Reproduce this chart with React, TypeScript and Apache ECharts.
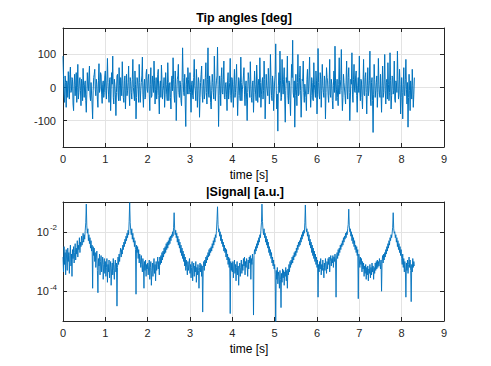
import React, { useEffect, useRef } from 'react';
import * as echarts from 'echarts';

// sampling step of the plotted records [s]
const dt = 0.0125;

// tick values
const timeTicks = [0, 1, 2, 3, 4, 5, 6, 7, 8, 9];
const angleTicks = [-100, 0, 100];
const signalTickExponents = [-4, -2];

// Tip angles [deg], one value per dt starting at t = 0 (each row = 0.5 s)
const tipAngles = [
  95, 30, -20, -45, 35, 15, -60, 20, 10, -30, 48, 5, -35, 40, 62, -15, -8, 30, 25, -50, -70, 10, 40, -25, 5, 45, -45, 0, 70, -35, -15, 20, 30, -10, -55, 25, 12, -40, 58, 5,
  -30, 10, 20, -40, -75, -20, 45, 5, -10, 35, 65, -25, -40, 15, 15, -50, -95, -10, 30, 40, 55, -5, -25, 25, 10, -35, -60, 20, 72, -15, -5, 45, 38, -20, -48, 10, 20, -30, -15, 35,
  50, -10, -35, 20, 88, 15, -20, -45, 25, 30, -70, -5, 45, 10, 95, -30, -50, 25, 10, -20, -85, -15, 35, 40, -15, -40, 60, 5, -40, 30, 5, -25, 78, 20, -30, -45, 22, 35, -65, -10,
  40, -25, -10, 15, 65, -20, -55, 30, 18, -15, -35, 25, 85, 0, -20, -40, 50, 10, -95, -30, 30, 20, -5, -45, 70, 15, -45, -10, 15, 35, 92, -20, -60, 5, 25, -35, -30, 40, 55, -5,
  -15, 25, 40, -20, -70, 10, 60, -30, -25, 35, 10, -15, 80, 20, -50, -5, 30, -35, -10, 40, 55, -25, -80, 5, 20, -30, 68, 25, -35, -10, 5, 30, -60, -20, 45, 10, -20, -40, 75, 15,
  -40, 5, 15, -30, -65, 20, 35, -10, 90, 25, -25, -45, 50, 10, -100, -20, 25, 35, 70, -15, -30, 20, 10, -40, -55, 15, 120, 30, -15, -25, 40, -50, -118, 10, 30, -20, 60, 25, -20, -5,
  45, -15, -75, 10, 20, -25, -35, 30, 85, 5, -10, -40, 55, 20, -60, -10, 30, 15, -90, -30, 15, 40, 65, -20, -45, 5, 25, -35, -20, 30, 75, -15, -50, 25, 120, -20, -30, 35, 10, -45,
  -65, -10, 40, 15, -15, -35, 95, 20, -40, -5, 20, 35, 122, 10, -118, -25, 35, 5, -55, 30, 60, -15, -20, 25, 80, -30, -35, 10, 15, -20, -70, 20, 45, -35, -10, 15, 88, -25, -45, 30,
  25, -20, -60, 10, 55, -30, -15, 25, 70, -10, -85, -25, 30, 20, -25, -40, 92, 15, -40, -5, 10, 35, 60, -20, -55, 5, 20, -35, -100, -15, 45, 25, -5, -30, 78, 10, -30, -45, 15, 20,
  -75, -15, 50, 10, -20, -40, 68, 20, -45, 5, 25, -30, 90, 15, -60, -20, 15, 30, -35, -10, 80, 25, -95, -35, 40, 5, -10, -25, 58, 20, -50, -5, 100, 30, -25, -40, 35, 10, -70, -20,
  20, 40, 132, -10, -65, -20, -132, 5, 45, -15, 110, 20, -40, -30, 85, 10, -20, 25, 60, -35, -105, -10, 30, 15, 95, -25, -50, 20, 15, -40, -85, 5, 70, 30, 143, -15, -30, 20, -120, -25,
  40, -5, -55, 15, 100, -25, -20, 30, 65, -10, -90, -35, 25, 20, 80, -15, -45, 10, 10, -30, -70, 25, 55, -20, -15, 35, 92, 0, -60, -25, 30, 15, -35, -40, 75, 10, -10, -30, 50, 20,
  -80, -20, 118, 15, -25, -35, 45, 25, -60, -10, 70, 5, -15, -30, 35, 20, -95, -15, 60, 30, 20, -25, -45, 10, 85, -20, -30, 25, 10, -40, -65, 5, 50, -15, 125, 20, -40, -5, 25, -30,
  -55, 10, 90, -20, -20, 25, 115, -10, -70, -30, 40, 15, 15, -25, -50, 20, 80, -5, -35, 30, 60, -15, -100, -35, 25, 10, 105, -20, -45, 25, 70, -10, -15, 35, 50, -25, -75, 5, 30, -15,
  95, -10, -40, 25, 20, -30, -65, 10, 85, -20, -25, 30, 45, -15, -80, 5, 60, -25, -10, 20, 110, -35, -55, 15, 30, -40, -136, -20, 70, 25, -30, -10, 15, 35, -60, -15, 88, 10, -20, -30,
  40, -20, -75, 5, 65, -30, -15, 25, 100, -10, -50, 15, 25, -35, 75, 10, -40, -15, 105, 20, -65, -25, 35, 30, -20, -10, 80, -35, -45, 20, 15, -15, 110, 25, -35, -20, 55, 10, -80, -30,
  30, -15, -95, 10, 60, -20, -25, 25, 85, -5, -50, 15, -120, -30, 40, -10, -70, 20, 20, -35, 55, 5, -60, -20, 30,
];

// |Signal| [a.u.] as log10 of the magnitude, one value per dt starting at t = 0 (each row = 0.25 s)
const signalLog10 = [
  -2.85, -3.35, -2.5, -3.1, -2.7, -3.45, -2.6, -2.95, -3.3, -2.55, -3.0, -2.7, -3.4, -2.8, -2.45, -3.15, -2.75, -3.5, -2.6, -2.9,
  -2.5, -3.05, -2.7, -2.4, -2.95, -2.55, -2.75, -2.3, -2.85, -2.45, -2.6, -2.2, -2.7, -2.35, -2.5, -2.15, -2.45, -2.3, -2.05, -2.35,
  -2.1, -2.25, -1.95, -1.7, -1.07, -1.8, -2.05, -1.9, -2.3, -2.1, -2.4, -2.2, -2.55, -2.3, -2.65, -2.45, -3.9, -2.5, -2.8, -2.55,
  -3.0, -2.7, -3.2, -2.85, -2.65, -3.3, -4.05, -2.9, -3.15, -2.75, -3.45, -3.0, -2.8, -3.35, -3.05, -2.85, -3.6, -3.1, -2.9, -3.4,
  -3.0, -3.5, -3.2, -2.9, -3.7, -3.1, -3.35, -2.95, -3.55, -3.2, -3.0, -3.8, -3.25, -3.05, -3.45, -2.9, -3.3, -3.6, -3.1, -2.95,
  -3.35, -3.05, -4.5, -3.2, -2.85, -3.1, -2.75, -3.0, -2.7, -2.55, -2.85, -2.6, -2.75, -2.45, -2.6, -2.35, -2.5, -2.25, -2.4, -2.15,
  -2.3, -2.05, -2.2, -1.95, -2.1, -1.65, -1.02, -1.7, -1.95, -2.1, -1.9, -2.25, -2.05, -2.35, -2.2, -2.5, -2.3, -2.6, -4.1, -2.45,
  -2.7, -2.5, -2.9, -2.6, -3.05, -2.75, -2.95, -3.2, -2.8, -3.1, -3.35, -2.9, -3.15, -3.9, -3.0, -3.3, -2.95, -3.5, -3.1, -3.25,
  -3.05, -3.45, -3.15, -2.95, -3.6, -3.2, -3.0, -3.8, -3.3, -3.05, -3.5, -3.15, -2.9, -3.4, -3.1, -3.65, -3.0, -3.3, -3.1, -2.85,
  -3.25, -3.0, -3.45, -2.85, -3.1, -2.8, -3.05, -2.7, -2.95, -2.65, -2.85, -2.55, -2.75, -2.5, -2.7, -2.4, -2.6, -2.35, -2.55, -2.3,
  -2.45, -2.2, -2.4, -2.15, -2.3, -2.1, -2.2, -2.0, -2.15, -1.85, -1.36, -1.9, -2.1, -1.95, -2.2, -2.05, -2.35, -2.15, -2.45, -2.25,
  -2.55, -2.35, -2.7, -2.45, -2.8, -2.55, -2.9, -2.65, -3.0, -2.75, -3.15, -2.85, -3.3, -2.95, -3.2, -3.45, -3.0, -3.3, -3.1, -2.9,
  -3.4, -3.1, -3.55, -3.2, -3.0, -3.65, -3.25, -3.05, -3.5, -3.15, -3.35, -3.0, -3.7, -3.2, -3.45, -3.1, -3.3, -3.9, -3.2, -3.05,
  -3.35, -3.1, -3.5, -3.15, -4.7, -3.2, -3.0, -3.3, -2.95, -3.15, -2.85, -3.05, -2.8, -2.95, -2.7, -2.85, -2.6, -2.8, -2.55, -2.7,
  -2.5, -2.65, -2.4, -2.55, -2.3, -2.45, -2.2, -2.35, -2.1, -2.2, -1.95, -1.6, -1.16, -1.75, -2.0, -1.9, -2.15, -2.0, -2.3, -2.1,
  -2.4, -2.25, -2.5, -2.35, -2.65, -2.45, -2.7, -2.55, -2.85, -2.6, -2.95, -2.75, -3.1, -2.85, -3.2, -2.9, -4.75, -3.0, -3.3, -3.05,
  -3.35, -3.0, -3.55, -3.15, -2.95, -3.4, -3.1, -3.65, -3.2, -3.0, -3.45, -3.15, -3.8, -3.25, -3.05, -3.5, -3.2, -2.95, -3.4, -3.1,
  -3.3, -2.9, -3.15, -2.85, -3.45, -3.0, -3.2, -2.9, -3.1, -3.5, -2.95, -3.25, -2.85, -3.05, -2.8, -3.6, -2.9, -3.1, -2.75, -3.0,
  -4.8, -2.8, -2.6, -2.75, -2.5, -2.65, -2.4, -2.55, -2.3, -2.45, -2.2, -2.35, -2.1, -2.2, -1.95, -1.7, -1.07, -1.65, -1.95, -2.1,
  -1.9, -2.2, -2.05, -2.35, -2.15, -2.45, -2.25, -2.55, -2.35, -2.7, -2.5, -2.8, -2.6, -2.9, -2.7, -3.05, -2.85, -3.15, -2.95, -3.25,
  -3.1, -3.45, -5.2, -3.3, -3.6, -3.2, -3.75, -3.35, -3.5, -3.9, -3.3, -3.6, -4.55, -3.4, -3.7, -3.25, -3.55, -3.3, -3.8, -3.35,
  -3.5, -3.2, -3.65, -3.3, -3.9, -3.25, -3.45, -3.1, -3.35, -3.0, -3.2, -2.95, -3.1, -2.85, -3.05, -2.8, -2.95, -2.7, -2.85, -2.65,
  -2.8, -2.55, -2.7, -2.45, -2.6, -2.35, -2.5, -2.3, -2.45, -2.2, -2.35, -2.1, -2.25, -2.0, -2.15, -1.95, -2.05, -1.7, -1.1, -1.8,
  -2.0, -1.9, -2.15, -2.0, -2.3, -2.1, -2.45, -2.25, -2.55, -2.35, -2.7, -2.45, -2.8, -2.55, -2.9, -2.65, -3.0, -2.75, -3.1, -2.85,
  -3.2, -2.95, -4.2, -3.1, -3.35, -3.0, -3.25, -2.9, -3.45, -3.1, -3.3, -2.95, -3.2, -3.55, -3.05, -3.3, -2.9, -3.15, -3.4, -3.0,
  -3.25, -2.9, -3.1, -2.85, -3.35, -3.0, -2.8, -3.15, -2.9, -3.05, -2.8, -3.2, -2.85, -3.0, -2.75, -2.95, -4.2, -2.85, -2.7, -2.9,
  -2.6, -2.8, -2.55, -2.7, -2.45, -2.6, -2.4, -2.5, -2.3, -2.45, -2.2, -2.35, -2.15, -2.25, -2.05, -2.2, -2.0, -2.1, -1.9, -1.75,
  -1.24, -1.8, -2.0, -1.9, -2.15, -2.0, -2.3, -2.1, -2.4, -2.2, -2.5, -2.3, -2.6, -2.45, -2.7, -2.5, -2.8, -2.6, -4.25, -2.75,
  -2.95, -3.2, -2.85, -3.1, -2.9, -3.35, -3.0, -3.25, -3.05, -3.5, -3.15, -3.4, -3.1, -3.6, -3.2, -3.45, -3.15, -3.65, -3.25, -3.4,
  -3.1, -3.55, -3.2, -3.45, -3.05, -3.35, -3.15, -3.6, -3.2, -3.4, -3.05, -3.3, -3.0, -3.25, -2.95, -3.2, -3.0, -3.15, -2.9, -3.1,
  -3.25, -2.95, -4.0, -3.0, -2.8, -3.05, -2.75, -2.95, -2.7, -2.85, -2.6, -2.75, -2.5, -2.65, -2.4, -2.55, -2.3, -2.45, -2.2, -2.3,
  -2.1, -2.2, -2.05, -1.85, -1.36, -1.9, -2.05, -2.0, -2.2, -2.1, -2.35, -2.2, -2.5, -2.3, -2.6, -2.4, -2.7, -2.5, -2.8, -2.6,
  -2.9, -3.1, -2.75, -3.2, -2.9, -3.35, -3.0, -3.25, -4.2, -3.05, -3.3, -2.95, -3.4, -3.1, -2.85, -3.2, -2.95, -3.3, -4.35, -3.1,
  -3.35, -2.9, -3.2, -3.0, -3.15,
];

const FONT = '"Liberation Sans", Arial, Helvetica, sans-serif';
const AXIS = '#262626';
const GRIDLINE = '#e3e3e3';
const BLUE = '#0072BD';

export default function App() {
  const ref = useRef<HTMLDivElement>(null);

  useEffect(() => {
    if (!ref.current) return;
    const chart = echarts.init(ref.current, null, { renderer: 'svg' });

    const topData = tipAngles.map((v, i) => [Number((i * dt).toFixed(4)), v]);
    const botData = signalLog10.map((v, i) => [Number((i * dt).toFixed(4)), v]);

    const xAxis = (gridIndex: number, position: 'bottom' | 'top') => ({
      type: 'value',
      gridIndex,
      position,
      min: timeTicks[0],
      max: timeTicks[timeTicks.length - 1],
      interval: 1,
      axisLine: { show: true, onZero: false, lineStyle: { color: AXIS, width: 1 } },
      axisTick: { show: true, inside: true, length: 4, lineStyle: { color: AXIS, width: 1 } },
      axisLabel: {
        show: position === 'bottom',
        color: AXIS,
        fontSize: 11,
        fontFamily: FONT,
        margin: 6,
        showMinLabel: true,
        showMaxLabel: true,
      },
      splitLine: { show: position === 'bottom', lineStyle: { color: GRIDLINE, width: 1 } },
    });

    const yAxisTop = (position: 'left' | 'right') => ({
      type: 'value',
      gridIndex: 0,
      position,
      min: -180,
      max: 180,
      axisLine: { show: true, onZero: false, lineStyle: { color: AXIS, width: 1 } },
      axisTick: {
        show: true,
        inside: true,
        length: 4,
        customValues: angleTicks,
        lineStyle: { color: AXIS, width: 1 },
      },
      axisLabel: {
        show: position === 'left',
        customValues: angleTicks,
        color: AXIS,
        fontSize: 11,
        fontFamily: FONT,
        margin: 7,
      },
      splitLine: { show: position === 'left', lineStyle: { color: GRIDLINE, width: 1 } },
    });

    const yAxisBot = (position: 'left' | 'right') => ({
      type: 'value',
      gridIndex: 1,
      position,
      min: -5,
      max: -1,
      axisLine: { show: true, onZero: false, lineStyle: { color: AXIS, width: 1 } },
      axisTick: {
        show: true,
        inside: true,
        length: 4,
        customValues: signalTickExponents,
        lineStyle: { color: AXIS, width: 1 },
      },
      axisLabel: {
        show: position === 'left',
        customValues: signalTickExponents,
        margin: 6,
        formatter: (v: number) => `{b|10}{s|${v}}`,
        rich: {
          b: { fontSize: 11, fontFamily: FONT, color: AXIS },
          s: { fontSize: 8, fontFamily: FONT, color: AXIS, padding: [0, 0, 8, 1] },
        },
      },
      splitLine: { show: position === 'left', lineStyle: { color: GRIDLINE, width: 1 } },
    });

    const txt = (text: string, x: number, y: number, bold: boolean, size: number) => ({
      type: 'text',
      x,
      y,
      silent: true,
      style: {
        text,
        fill: '#000',
        fontFamily: FONT,
        fontSize: size,
        fontWeight: bold ? 'bold' : 'normal',
        align: 'center',
        verticalAlign: 'middle',
      },
    });

    chart.setOption({
      animation: false,
      backgroundColor: '#ffffff',
      grid: [
        { left: 63, top: 28, width: 381, height: 119, containLabel: false },
        { left: 63, top: 202, width: 381, height: 119, containLabel: false },
      ],
      xAxis: [xAxis(0, 'bottom'), xAxis(0, 'top'), xAxis(1, 'bottom'), xAxis(1, 'top')],
      yAxis: [yAxisTop('left'), yAxisTop('right'), yAxisBot('left'), yAxisBot('right')],
      series: [
        {
          type: 'line',
          xAxisIndex: 0,
          yAxisIndex: 0,
          data: topData,
          symbol: 'none',
          showSymbol: false,
          clip: true,
          silent: true,
          lineStyle: { color: BLUE, width: 1 },
        },
        {
          type: 'line',
          xAxisIndex: 2,
          yAxisIndex: 2,
          data: botData,
          symbol: 'none',
          showSymbol: false,
          clip: true,
          silent: true,
          lineStyle: { color: BLUE, width: 0.9 },
        },
      ],
      graphic: [
        txt('Tip angles [deg]', 244, 18, true, 12.5),
        txt('time [s]', 249, 175, false, 12),
        txt('|Signal| [a.u.]', 245, 192, true, 12.5),
        txt('time [s]', 249, 349, false, 12),
      ],
    });

    return () => {
      chart.dispose();
    };
  }, []);

  return (
    <div
      ref={ref}
      style={{ position: 'fixed', left: 0, top: 0, width: 491, height: 366, background: '#fff' }}
    />
  );
}
